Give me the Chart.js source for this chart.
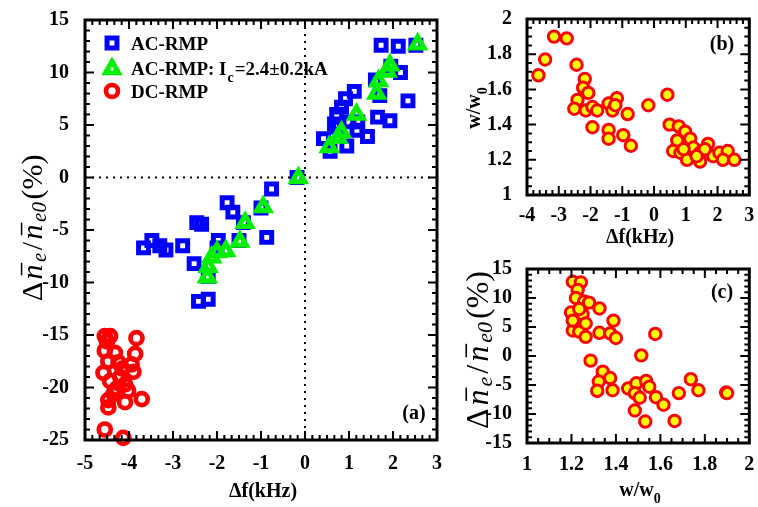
<!DOCTYPE html>
<html>
<head>
<meta charset="utf-8">
<script src="https://cdn.jsdelivr.net/npm/chart.js@4.4.1/dist/chart.umd.min.js"></script>
<style>
html, body { margin: 0; padding: 0; background: #fff; }
#wrap { position: relative; width: 758px; height: 507px; overflow: hidden; }
canvas { position: absolute; }
</style>
</head>
<body>
<div id="wrap">
  <canvas id="chartA" width="470" height="507" style="left:0;top:0"></canvas>
  <canvas id="chartB" width="318" height="250" style="left:440px;top:0"></canvas>
  <canvas id="chartC" width="318" height="257" style="left:440px;top:250px"></canvas>
</div>
<script>
// panel (a): density change vs frequency shift
var acX = [1.73, 2.12, 2.52, 1.95, 2.17, 1.6, 1.7, 2.34, 1.12, 0.92, 0.83, 0.72, 0.67, 0.42, 0.95, 1.18, 1.42, 1.65, 1.93, 0.57,
           0.76, 1.2, 1.0, -0.18, -0.76, -1.77, -1.64, -2.46, -2.35, -3.48, -3.67, -3.3, -3.16, -2.78, -1.97, -2.52, -2.0,
           -2.42, -2.2, -0.87, -1.4, -1.0, -1.5, -2.2];
var acY = [12.6, 12.5, 12.6, 10.6, 10.0, 9.3, 7.8, 7.3, 8.2, 7.5, 6.7, 6.0, 5.1, 3.7, 3.0, 4.5, 3.9, 5.75, 5.4, 2.5,
           4.8, 5.3, 5.3, 0.0, -1.1, -2.4, -3.3, -4.3, -4.45, -6.0, -6.7, -6.5, -6.9, -6.5, -6.0, -8.2, -6.7,
           -11.8, -11.6, -5.7, -4.3, -2.9, -6.0, -9.4];
var icX = [2.56, 1.93, 1.87, 1.67, 1.63, 1.17, 0.83, 0.75, 0.55, -0.15, -0.95, -1.36, -1.48, -1.8, -2.0, -2.12, -2.2, -2.22];
var icY = [12.7, 10.7, 10.1, 9.2, 8.0, 6.0, 4.3, 3.8, 2.9, -0.05, -2.8, -4.3, -6.1, -7.0, -7.1, -7.6, -8.5, -9.5];
var dcX = [-4.55, -4.43, -4.5, -3.83, -4.55, -4.32, -3.86, -4.47, -4.24, -3.94, -4.58, -4.43, -4.2, -4.09, -4.28, -4.02,
           -4.47, -4.09, -3.71, -4.47, -4.55, -4.13, -3.9, -4.15, -4.35];
var dcY = [-15.1, -15.1, -15.6, -15.3, -16.5, -16.7, -16.8, -17.5, -17.6, -17.8, -18.6, -19.4, -19.0, -19.7, -20.1, -20.3,
           -21.2, -21.4, -21.1, -21.9, -24.0, -24.8, -18.5, -18.2, -20.6];

// panel (b): island width vs frequency shift
var bDf = [-3.64, -3.43, -3.15, -2.75, -2.44, -2.18, -2.23, -2.07, -2.41, -2.51, -2.15, -1.94, -1.79, -1.94, -1.43, -1.17,
           -1.31, -1.22, -1.43, -1.43, -0.97, -0.83, -0.73, -0.18, 0.42, 0.49, 0.78, 0.98, 1.14, 0.73, 0.6, 0.83, 1.04,
           1.24, 1.45, 1.7, 1.45, 1.86, 2.06, 2.32, 2.53, 2.17, 0.93, 1.6, 1.34];
var bW = [1.68, 1.77, 1.9, 1.89, 1.74, 1.66, 1.61, 1.58, 1.54, 1.49, 1.48, 1.5, 1.48, 1.385, 1.52, 1.55,
          1.48, 1.51, 1.37, 1.32, 1.34, 1.46, 1.28, 1.51, 1.57, 1.4, 1.39, 1.36, 1.32, 1.31, 1.25, 1.24, 1.2,
          1.27, 1.24, 1.29, 1.19, 1.22, 1.24, 1.25, 1.2, 1.2, 1.26, 1.26, 1.22];

// panel (c): density change vs island width
var cW = [1.206, 1.242, 1.228, 1.22, 1.257, 1.279, 1.326, 1.198, 1.25, 1.235, 1.389, 1.206, 1.235, 1.264, 1.326, 1.374,
          1.4, 1.577, 1.514, 1.286, 1.341, 1.374, 1.323, 1.316, 1.385, 1.455, 1.492, 1.536, 1.485, 1.507, 1.55, 1.58,
          1.614, 1.485, 1.532, 1.664, 1.683, 1.737, 1.771, 1.896, 1.9, 1.206, 1.264];
var cDn = [12.8, 12.7, 11.4, 10.0, 9.4, 9.2, 8.2, 7.5, 7.2, 8.1, 6.1, 4.4, 4.2, 3.3, 4.0, 3.9,
           3.1, 3.8, 0.1, -0.8, -2.7, -3.8, -4.4, -6.0, -5.9, -5.6, -4.7, -4.3, -6.4, -7.2, -5.3, -7.1,
           -8.4, -9.4, -11.3, -11.2, -6.4, -4.0, -5.9, -6.3, -6.4, 6.1, 5.6];

var SERIF = '"Liberation Serif", "Times New Roman", serif';

function pts(xs, ys) {
    return xs.map(function (x, i) { return {x: x, y: ys[i]}; });
}

function drawRich(ctx, item) {
    var gap = item.gap || 0;
    var fontOf = function (s) {
        return (s.it ? 'italic ' : '') + (s.b ? 'bold ' : '') + s.s + 'px ' + SERIF;
    };
    var total = 0;
    item.segs.forEach(function (s) {
        ctx.font = fontOf(s);
        s.w = ctx.measureText(s.t).width;
        total += s.w;
    });
    total += gap * (item.segs.length - 1);
    ctx.save();
    ctx.translate(item.x, item.y);
    if (item.rot) ctx.rotate(-Math.PI / 2);
    ctx.fillStyle = '#000';
    ctx.strokeStyle = '#000';
    ctx.textAlign = 'left';
    ctx.textBaseline = 'alphabetic';
    var cx = item.align === 'left' ? 0 : -total / 2;
    item.segs.forEach(function (s) {
        ctx.font = fontOf(s);
        ctx.fillText(s.t, cx, s.dy || 0);
        if (s.bar) {
            ctx.lineWidth = Math.max(1.2, s.s * 0.05);
            ctx.beginPath();
            ctx.moveTo(cx + s.s * 0.14, -s.s * 0.68);
            ctx.lineTo(cx + s.w + s.s * 0.06, -s.s * 0.68);
            ctx.stroke();
        }
        cx += s.w + gap;
    });
    ctx.restore();
}

function drawMarker(ctx, m) {
    ctx.save();
    ctx.lineWidth = m.w;
    ctx.strokeStyle = m.color;
    ctx.beginPath();
    if (m.style === 'rect') {
        var h = Math.SQRT1_2 * m.r;
        ctx.rect(m.x - h, m.y - h, 2 * h, 2 * h);
    } else if (m.style === 'triangle') {
        var a = 0;
        for (var k = 0; k < 3; k++) {
            var px = m.x + Math.sin(a) * m.r, py = m.y - Math.cos(a) * m.r;
            if (k === 0) ctx.moveTo(px, py); else ctx.lineTo(px, py);
            a += 2 * Math.PI / 3;
        }
        ctx.closePath();
    } else {
        ctx.arc(m.x, m.y, m.r, 0, 2 * Math.PI);
    }
    ctx.stroke();
    ctx.restore();
}

function tickList(sc, major, minor) {
    var out = [];
    var n = Math.round((sc.max - sc.min) / minor);
    for (var i = 0; i <= n; i++) {
        var v = sc.min + i * minor;
        var r = v / major;
        out.push([sc.getPixelForValue(v), Math.abs(r - Math.round(r)) < 1e-6]);
    }
    return out;
}

var framePlugin = {
    id: 'frame',
    beforeDatasetsDraw: function (chart, args, o) {
        if (!o.zeroLines) return;
        var ctx = chart.ctx, a = chart.chartArea;
        var x0 = chart.scales.x.getPixelForValue(0), y0 = chart.scales.y.getPixelForValue(0);
        ctx.save();
        ctx.strokeStyle = '#000';
        ctx.lineWidth = 2;
        ctx.setLineDash([2, 5]);
        ctx.beginPath();
        ctx.moveTo(x0, a.top); ctx.lineTo(x0, a.bottom);
        ctx.moveTo(a.left, y0); ctx.lineTo(a.right, y0);
        ctx.stroke();
        ctx.restore();
    },
    afterDatasetsDraw: function (chart, args, o) {
        var ctx = chart.ctx, a = chart.chartArea;
        ctx.save();
        ctx.strokeStyle = '#000';
        ctx.lineWidth = 2;
        ctx.beginPath();
        tickList(chart.scales.x, o.xMajor, o.xMinor).forEach(function (t) {
            var l = t[1] ? 9 : 5;
            ctx.moveTo(t[0], a.bottom); ctx.lineTo(t[0], a.bottom - l);
            ctx.moveTo(t[0], a.top); ctx.lineTo(t[0], a.top + l);
        });
        tickList(chart.scales.y, o.yMajor, o.yMinor).forEach(function (t) {
            var l = t[1] ? 9 : 5;
            ctx.moveTo(a.left, t[0]); ctx.lineTo(a.left + l, t[0]);
            ctx.moveTo(a.right, t[0]); ctx.lineTo(a.right - l, t[0]);
        });
        ctx.stroke();
        ctx.lineWidth = 3;
        ctx.strokeRect(a.left, a.top, a.width, a.height);
        (o.markers || []).forEach(function (m) { drawMarker(ctx, m); });
        (o.texts || []).forEach(function (t) { drawRich(ctx, t); });
        ctx.restore();
    }
};

function axis(ax, which) {
    return {
        type: 'linear',
        min: ax.min,
        max: ax.max,
        grid: {display: false},
        border: {display: false},
        ticks: {
            stepSize: ax.step,
            autoSkip: false,
            maxRotation: 0,
            padding: ax.pad,
            color: '#000',
            font: {family: SERIF, weight: 'bold', size: 20},
            callback: function (v) { return String(Math.round(v * 100) / 100); }
        },
        afterFit: function (s) {
            if (which === 'x') s.height = ax.size; else s.width = ax.size;
        }
    };
}

function panel(id, datasets, cfg) {
    return new Chart(document.getElementById(id), {
        type: 'scatter',
        data: {datasets: datasets},
        options: {
            responsive: false,
            animation: false,
            events: [],
            layout: {padding: cfg.pad},
            plugins: {legend: {display: false}, tooltip: {enabled: false}, frame: cfg.frame},
            scales: {x: axis(cfg.x, 'x'), y: axis(cfg.y, 'y')}
        },
        plugins: [framePlugin]
    });
}

function dnTitle(size, sub) {
    return [
        {t: 'Δ', s: size},
        {t: 'n', s: size, it: true, bar: true},
        {t: 'e', s: Math.round(size * 0.7), it: true, dy: size * 0.14},
        {t: '/', s: size},
        {t: 'n', s: size, it: true, bar: true},
        {t: 'e0', s: Math.round(size * 0.7), it: true, dy: size * 0.14},
        {t: '(%)', s: size}
    ];
}
var wTitle = [{t: 'w/w', s: 20, b: true}, {t: '0', s: 14, b: true, dy: 7}];
var dfTitle = [{t: 'Δf(kHz)', s: 20, b: true}];

var blue = '#0000ff', green = '#00ee00', red = '#ff0000', yellow = '#ffff00';

panel('chartA', [
    {label: 'AC-RMP', data: pts(acX, acY), pointStyle: 'rect', pointRadius: 7, pointBorderWidth: 5,
     pointBorderColor: blue, pointBackgroundColor: 'rgba(0,0,0,0)', order: 1, clip: false},
    {label: 'AC-RMP: Ic=2.4±0.2kA', data: pts(icX, icY), pointStyle: 'triangle', pointRadius: 7.5, pointBorderWidth: 5,
     pointBorderColor: green, pointBackgroundColor: 'rgba(0,0,0,0)', order: 0, clip: false},
    {label: 'DC-RMP', data: pts(dcX, dcY), pointStyle: 'circle', pointRadius: 6, pointBorderWidth: 4.7,
     pointBorderColor: red, pointBackgroundColor: 'rgba(0,0,0,0)', order: 2, clip: false}
], {
    pad: {top: 15, right: 33, left: 0, bottom: 0},
    x: {min: -5, max: 3, step: 1, pad: 4, size: 67},
    y: {min: -25, max: 15, step: 5, pad: 8, size: 85},
    frame: {
        xMajor: 1, xMinor: 1 / 6, yMajor: 5, yMinor: 1, zeroLines: true,
        markers: [
            {style: 'rect', x: 112, y: 43, r: 7, w: 5, color: blue},
            {style: 'triangle', x: 112, y: 69, r: 7.5, w: 5, color: green},
            {style: 'circle', x: 112, y: 91, r: 6, w: 4.7, color: red}
        ],
        texts: [
            {segs: [{t: 'AC-RMP', s: 19, b: true}], x: 131, y: 50, align: 'left'},
            {segs: [{t: 'AC-RMP: I', s: 19, b: true}, {t: 'c', s: 14, b: true, dy: 7}, {t: '=2.4±0.2kA', s: 19, b: true}],
             x: 131, y: 75, align: 'left', gap: 1},
            {segs: [{t: 'DC-RMP', s: 19, b: true}], x: 131, y: 98, align: 'left'},
            {segs: [{t: '(a)', s: 20, b: true}], x: 414, y: 419},
            {segs: dfTitle, x: 263, y: 497},
            {segs: dnTitle(30), x: 42, y: 228, rot: true, gap: 2.5}
        ]
    }
});

panel('chartB', [
    {label: 'w/w0', data: pts(bDf, bW), pointStyle: 'circle', pointRadius: 5.7, pointBorderWidth: 3,
     pointBorderColor: red, pointBackgroundColor: yellow, clip: false}
], {
    pad: {top: 15, right: 4, left: 0, bottom: 0},
    x: {min: -4, max: 3, step: 1, pad: 1, size: 55},
    y: {min: 1, max: 2, step: 0.2, pad: 7, size: 87},
    frame: {
        xMajor: 1, xMinor: 0.2, yMajor: 0.2, yMinor: 0.05,
        texts: [
            {segs: [{t: '(b)', s: 20, b: true}], x: 282, y: 50},
            {segs: dfTitle, x: 200, y: 243},
            {segs: wTitle, x: 40, y: 108, rot: true}
        ]
    }
});

panel('chartC', [
    {label: 'dn', data: pts(cW, cDn), pointStyle: 'circle', pointRadius: 5.7, pointBorderWidth: 3,
     pointBorderColor: red, pointBackgroundColor: yellow, clip: false}
], {
    pad: {top: 13, right: 4, left: 0, bottom: 0},
    x: {min: 1, max: 2, step: 0.2, pad: 2, size: 64},
    y: {min: -15, max: 15, step: 5, pad: 7, size: 87},
    frame: {
        xMajor: 0.2, xMinor: 0.05, yMajor: 5, yMinor: 1,
        texts: [
            {segs: [{t: '(c)', s: 20, b: true}], x: 282, y: 48},
            {segs: wTitle, x: 200, y: 246},
            {segs: dnTitle(32), x: 48, y: 100, rot: true, gap: 3}
        ]
    }
});
</script>
</body>
</html>
